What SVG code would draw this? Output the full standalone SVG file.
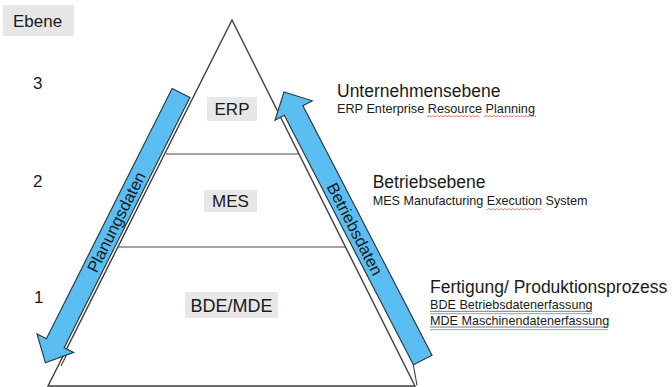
<svg xmlns="http://www.w3.org/2000/svg" width="672" height="387" viewBox="0 0 672 387">
<defs>
<style>
.t{font-family:"Liberation Sans",Arial,sans-serif;fill:#1a1a1a}
.big{font-size:17.5px}
.lvl{font-size:17px}
.small{font-size:12.6px}
.box{fill:#e7e7e7}
.edge{fill:#ffffff;stroke:#3c3c3c;stroke-width:1.4}
.div{stroke:#4a4a4a;stroke-width:1.2;fill:none}
.arrow{fill:#5bbef2;stroke:#2f3a40;stroke-width:1.2;stroke-linejoin:miter}
.shadow{stroke:#3c3c3c;stroke-width:1.1;fill:none}
.alab{font-family:"Liberation Sans",Arial,sans-serif;font-size:16.5px;fill:#1a1a1a}
.squig{fill:none;stroke:#e05a5a;stroke-width:0.8}
.ul{stroke:#6a6a78;stroke-width:0.9}
.ulb{stroke:#8fb6ee;stroke-width:1.2}
</style>
</defs>
<rect width="672" height="387" fill="#ffffff"/>

<g id="pyramid">
<polygon class="edge" points="232,20 48,386 415,386"/>
<line class="div" x1="166" y1="154" x2="299" y2="154"/>
<line class="div" x1="118" y1="247" x2="345" y2="247"/>
<line class="shadow" x1="413.4" y1="365" x2="417" y2="385.5"/>
<line class="shadow" x1="66.5" y1="355" x2="61" y2="366"/>
</g>

<g id="ebene">
<rect class="box" x="3" y="5" width="71" height="31"/>
<text class="t lvl" x="13" y="27">Ebene</text>
</g>
<g id="level-3"><text class="t lvl" x="33" y="89">3</text></g>
<g id="level-2"><text class="t lvl" x="33" y="187">2</text></g>
<g id="level-1"><text class="t lvl" x="34" y="303">1</text></g>

<g id="erp">
<rect class="box" x="207" y="97" width="50" height="24"/>
<text class="t lvl" x="232" y="115" text-anchor="middle">ERP</text>
</g>
<g id="mes">
<rect class="box" x="204" y="190" width="53" height="22"/>
<text class="t lvl" x="230.5" y="207" text-anchor="middle">MES</text>
</g>
<g id="bde-mde">
<rect class="box" x="185" y="292" width="93" height="26"/>
<text class="t" style="font-size:18px" x="231.5" y="312" text-anchor="middle">BDE/MDE</text>
</g>

<g id="desc-erp">
<text class="t big" x="337" y="97">Unternehmensebene</text>
<text class="t small" x="337" y="113" style="font-size:12.7px">ERP Enterprise Resource Planning</text>
<path class="squig" d="M427,117 l2,-1.5 l2,1.5 l2,-1.5 l2,1.5 l2,-1.5 l2,1.5 l2,-1.5 l2,1.5 l2,-1.5 l2,1.5 l2,-1.5 l2,1.5 l2,-1.5 l2,1.5 l2,-1.5 l2,1.5 l2,-1.5 l2,1.5 l2,-1.5 l2,1.5 l2,-1.5 l2,1.5 l2,-1.5 l2,1.5 l2,-1.5 l2,1.5"/>
<path class="squig" d="M484,117 l2,-1.5 l2,1.5 l2,-1.5 l2,1.5 l2,-1.5 l2,1.5 l2,-1.5 l2,1.5 l2,-1.5 l2,1.5 l2,-1.5 l2,1.5 l2,-1.5 l2,1.5 l2,-1.5 l2,1.5 l2,-1.5 l2,1.5 l2,-1.5 l2,1.5 l2,-1.5 l2,1.5 l2,-1.5 l2,1.5 l2,-1.5 l2,1.5"/>
</g>

<g id="desc-mes">
<text class="t big" x="372.7" y="188">Betriebsebene</text>
<text class="t small" x="372.7" y="205">MES Manufacturing Execution System</text>
<path class="squig" d="M487,210 l2,-1.5 l2,1.5 l2,-1.5 l2,1.5 l2,-1.5 l2,1.5 l2,-1.5 l2,1.5 l2,-1.5 l2,1.5 l2,-1.5 l2,1.5 l2,-1.5 l2,1.5 l2,-1.5 l2,1.5 l2,-1.5 l2,1.5 l2,-1.5 l2,1.5 l2,-1.5 l2,1.5 l2,-1.5 l2,1.5 l2,-1.5 l2,1.5 l2,-1.5"/>
</g>

<g id="desc-bde">
<text class="t big" x="430" y="293">Fertigung/ Produktionsprozess</text>
<text class="t small" x="430" y="309.3">BDE Betriebsdatenerfassung</text>
<line class="ul" x1="430" y1="311.3" x2="592" y2="311.3"/>
<line class="ulb" x1="430" y1="313.6" x2="592" y2="313.6"/>
<text class="t small" x="430" y="325">MDE Maschinendatenerfassung</text>
<line class="ul" x1="430" y1="327" x2="608" y2="327"/>
<line class="ulb" x1="430" y1="329.6" x2="608" y2="329.6"/>
</g>

<g id="connectors">
<g id="planungsdaten">
<polygon class="arrow" points="172.1,88.5 189.9,97.5 64.2,347.7 73.6,352.4 45.4,362.8 37.0,334.0 46.4,338.7"/>
<text class="alab" transform="translate(116.2,222) rotate(-63.3)" x="0" y="5.8" text-anchor="middle">Planungsdaten</text>
</g>
<g id="betriebsdaten">
<polygon class="arrow" points="413.4,364.8 432.0,355.2 302.9,105.7 312.2,100.8 284,92 275.0,120.2 284.3,115.3"/>
<text class="alab" transform="translate(354.9,229) rotate(62.6)" x="0" y="5.8" text-anchor="middle">Betriebsdaten</text>
</g>
</g>
</svg>
